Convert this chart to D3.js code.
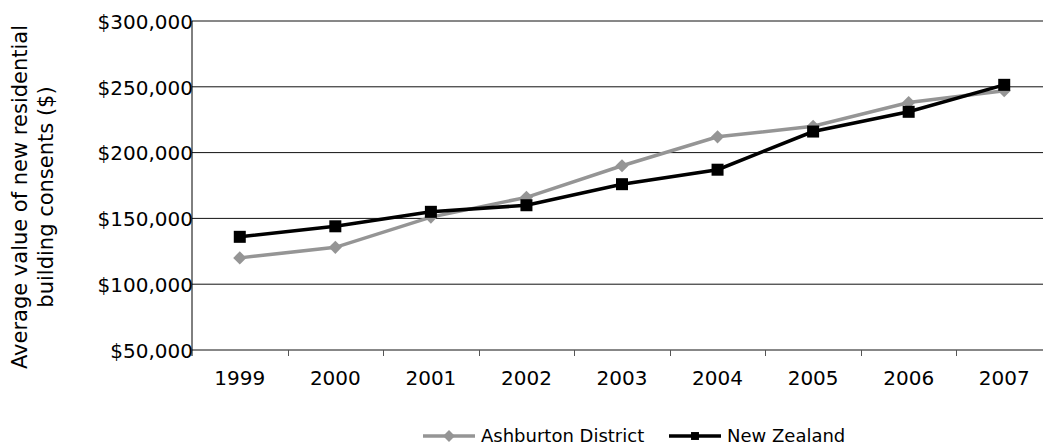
<!DOCTYPE html>
<html>
<head>
<meta charset="utf-8">
<script src="https://cdn.jsdelivr.net/npm/d3@7"></script>
<style>
  body { margin: 0; background: #fff; }
  text { font-family: "DejaVu Sans", sans-serif; fill: #000; }
</style>
</head>
<body>
<div id="vis"></div>
<script>
const years = ['1999','2000','2001','2002','2003','2004','2005','2006','2007']
const ashburton = [120000,128000,151000,166000,190000,212000,220000,238000,247000]
const newZealand = [136000,144000,155000,160000,176000,187000,216000,231000,251500]
const yTicks = [50000,100000,150000,200000,250000,300000]

let width = 1043, height = 445

let svg = d3.select('#vis')
  .append('svg')
  .attr('width', width)
  .attr('height', height)

let xScale = d3.scaleBand()
  .domain(years)
  .range([192, 1052])

let yScale = d3.scaleLinear()
  .domain([50000, 300000])
  .range([350, 21])

// gridlines
svg.append('g')
  .selectAll('line')
  .data(yTicks)
  .join('line')
  .attr('x1', 192)
  .attr('x2', width)
  .attr('y1', d => yScale(d))
  .attr('y2', d => yScale(d))
  .attr('stroke', '#111')
  .attr('stroke-width', 1)

// y axis
let yAxis = svg.append('g')
  .attr('transform', 'translate(193,0)')
  .call(d3.axisLeft(yScale).tickValues(yTicks).tickSize(0).tickPadding(0)
    .tickFormat(d => '$' + d3.format(',')(d)))
yAxis.select('.domain').remove()
yAxis.selectAll('text')
  .attr('font-size', 20)
  .attr('font-family', 'DejaVu Sans')
  .attr('dy', '0.36em')
svg.append('line')
  .attr('x1', 192).attr('x2', 192)
  .attr('y1', yScale(300000)).attr('y2', 356)
  .attr('stroke', '#000')

// x axis
let xAxis = svg.append('g')
  .attr('transform', 'translate(0,350)')
  .call(d3.axisBottom(xScale).tickSize(0).tickPadding(21))
xAxis.select('.domain').remove()
xAxis.selectAll('text')
  .attr('font-size', 20)
  .attr('font-family', 'DejaVu Sans')

// tick marks between categories
svg.append('g')
  .selectAll('line')
  .data(years.slice(1))
  .join('line')
  .attr('x1', d => Math.round(xScale(d)) + 0.5)
  .attr('x2', d => Math.round(xScale(d)) + 0.5)
  .attr('y1', 350)
  .attr('y2', 356)
  .attr('stroke', '#555')

let cx = d => xScale(d) + xScale.bandwidth() / 2

let line = d3.line()
  .x(d => cx(d[0]))
  .y(d => yScale(d[1]))

let ashData = years.map((y, i) => [y, ashburton[i]])
let nzData = years.map((y, i) => [y, newZealand[i]])

svg.append('path')
  .attr('d', line(ashData))
  .attr('fill', 'none')
  .attr('stroke', '#959595')
  .attr('stroke-width', 3.5)

svg.append('g')
  .selectAll('path')
  .data(ashData)
  .join('path')
  .attr('d', d3.symbol(d3.symbolDiamond2, 110))
  .attr('transform', d => `translate(${cx(d[0])},${yScale(d[1])})`)
  .attr('fill', '#959595')

svg.append('path')
  .attr('d', line(nzData))
  .attr('fill', 'none')
  .attr('stroke', '#000')
  .attr('stroke-width', 3.5)

svg.append('g')
  .selectAll('rect')
  .data(nzData)
  .join('rect')
  .attr('x', d => cx(d[0]) - 6)
  .attr('y', d => yScale(d[1]) - 6)
  .attr('width', 12)
  .attr('height', 12)
  .attr('fill', '#000')

// y label
let yLabel = svg.append('text')
  .attr('transform', 'translate(19,197) rotate(-90)')
  .attr('text-anchor', 'middle')
  .attr('font-size', 21)
yLabel.append('tspan').attr('x', 0).attr('dy', '0.36em').text('Average value of new residential')
yLabel.append('tspan').attr('x', 0).attr('dy', 26).text('building consents ($)')

// legend
let legend = [
  {name: 'Ashburton District', color: '#959595', x: 423, shape: 'diamond'},
  {name: 'New Zealand', color: '#000', x: 669, shape: 'square'}
]
let lg = svg.append('g').selectAll('g')
  .data(legend)
  .join('g')
  .attr('transform', d => `translate(${d.x},436)`)
lg.append('line')
  .attr('x1', 0).attr('x2', 52)
  .attr('stroke', d => d.color)
  .attr('stroke-width', 3.5)
lg.append('path')
  .attr('d', d => d.shape === 'diamond'
    ? d3.symbol(d3.symbolDiamond2, 90)()
    : d3.symbol(d3.symbolSquare2, 80)())
  .attr('transform', 'translate(26,0)')
  .attr('fill', d => d.color)
lg.append('text')
  .attr('x', 58)
  .attr('dy', '0.36em')
  .attr('font-size', 18)
  .text(d => d.name)
</script>
</body>
</html>
